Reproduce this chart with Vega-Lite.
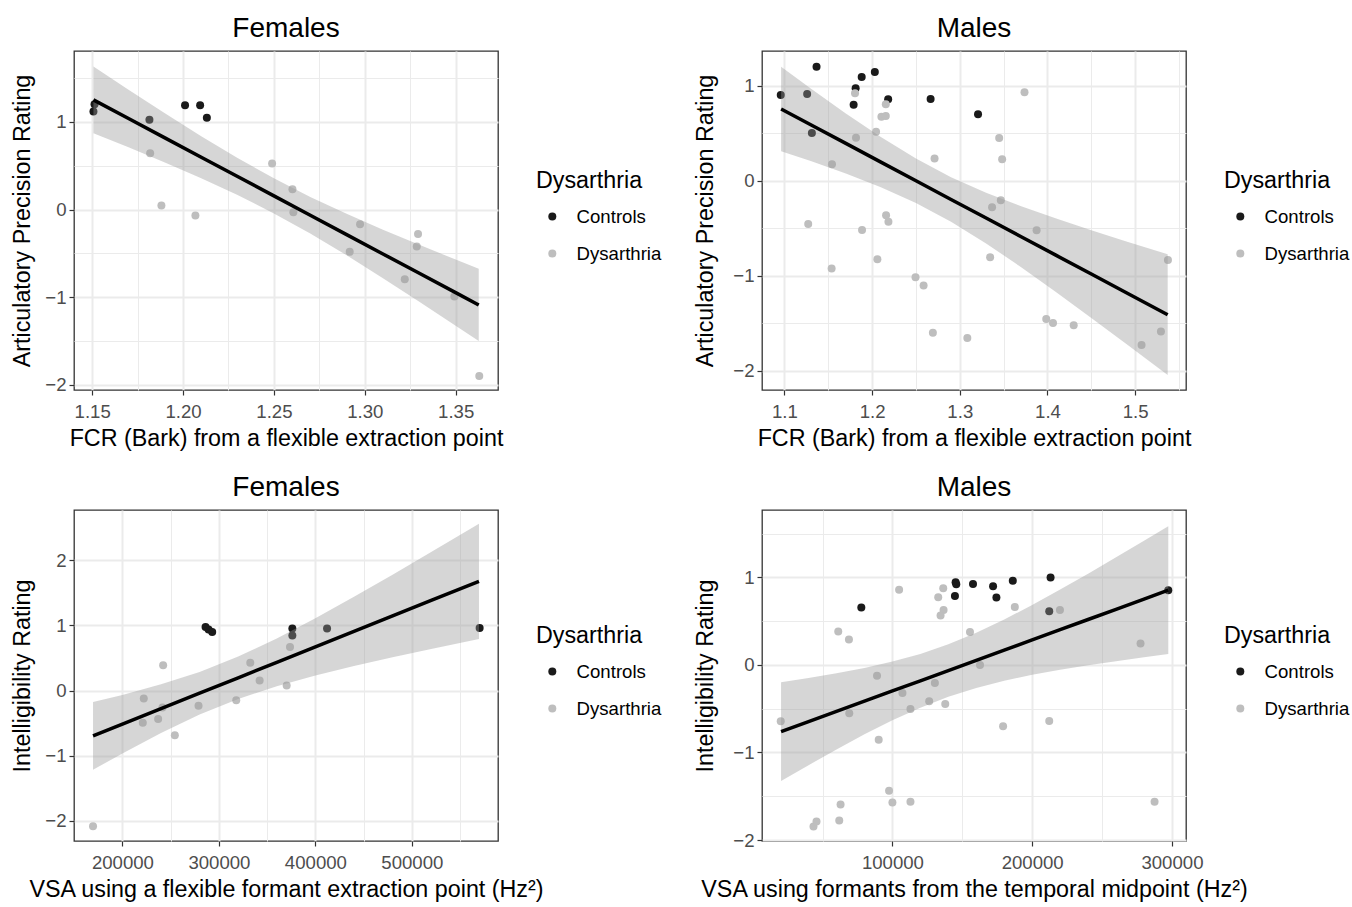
{
  "$schema": "https://vega.github.io/schema/vega-lite/v6.json",
  "padding": {"left": 10, "top": 14, "right": 0, "bottom": 0},
  "background": "white",
  "config": {
    "font": "Liberation Sans",
    "view": {"stroke": "#333333", "strokeWidth": 1.3},
    "axis": {
      "domain": false,
      "tickColor": "#333333",
      "tickSize": 5,
      "tickWidth": 1.2,
      "labelColor": "#4d4d4d",
      "labelFontSize": 18.6,
      "labelFont": "Liberation Sans",
      "labelOverlap": false,
      "labelFlush": false,
      "labelBound": false,
      "titleFont": "Liberation Sans",
      "titleFontSize": 23.3,
      "titleFontWeight": "normal",
      "titleColor": "#000000",
      "gridColor": "#ebebeb"
    },
    "axisX": {"labelPadding": 7, "titlePadding": 7},
    "axisY": {"labelPadding": 3, "titlePadding": 10},
    "legend": {
      "titleFont": "Liberation Sans",
      "titleFontSize": 23.3,
      "titleFontWeight": "normal",
      "titleColor": "#000000",
      "labelFont": "Liberation Sans",
      "labelFontSize": 18.6,
      "labelColor": "#000000",
      "symbolType": "circle",
      "symbolSize": 64,
      "symbolStrokeWidth": 0,
      "symbolOpacity": 1,
      "rowPadding": 18,
      "titlePadding": 14,
      "symbolOffset": 7,
      "labelOffset": 15,
      "padding": 0,
      "orient": "none"
    },
    "title": {"font": "Liberation Sans", "fontSize": 28, "fontWeight": "normal", "color": "#000000", "anchor": "middle", "offset": 8}
  },
  "datasets": {
    "p1pts": [
      {"x": 1.1507, "y": 1.119, "group": "Controls"},
      {"x": 1.1513, "y": 1.203, "group": "Controls"},
      {"x": 1.2011, "y": 1.191, "group": "Controls"},
      {"x": 1.2094, "y": 1.191, "group": "Controls"},
      {"x": 1.2131, "y": 1.047, "group": "Controls"},
      {"x": 1.1815, "y": 1.024, "group": "Controls"},
      {"x": 1.1819, "y": 0.643, "group": "Dysarthria"},
      {"x": 1.1881, "y": 0.046, "group": "Dysarthria"},
      {"x": 1.2068, "y": -0.069, "group": "Dysarthria"},
      {"x": 1.2490, "y": 0.525, "group": "Dysarthria"},
      {"x": 1.2602, "y": 0.232, "group": "Dysarthria"},
      {"x": 1.2607, "y": -0.030, "group": "Dysarthria"},
      {"x": 1.2974, "y": -0.167, "group": "Dysarthria"},
      {"x": 1.2917, "y": -0.483, "group": "Dysarthria"},
      {"x": 1.3293, "y": -0.278, "group": "Dysarthria"},
      {"x": 1.3286, "y": -0.423, "group": "Dysarthria"},
      {"x": 1.3220, "y": -0.796, "group": "Dysarthria"},
      {"x": 1.3493, "y": -0.994, "group": "Dysarthria"},
      {"x": 1.3630, "y": -1.900, "group": "Dysarthria"}
    ],
    "p1band": [
      {"x": 1.1507, "fit": 1.252, "lo": 0.872, "hi": 1.632},
      {"x": 1.17, "fit": 1.039, "lo": 0.710, "hi": 1.368},
      {"x": 1.19, "fit": 0.818, "lo": 0.538, "hi": 1.098},
      {"x": 1.21, "fit": 0.597, "lo": 0.358, "hi": 0.837},
      {"x": 1.23, "fit": 0.377, "lo": 0.166, "hi": 0.588},
      {"x": 1.25, "fit": 0.156, "lo": -0.044, "hi": 0.356},
      {"x": 1.27, "fit": -0.065, "lo": -0.274, "hi": 0.144},
      {"x": 1.29, "fit": -0.286, "lo": -0.523, "hi": -0.049},
      {"x": 1.31, "fit": -0.507, "lo": -0.783, "hi": -0.230},
      {"x": 1.33, "fit": -0.727, "lo": -1.052, "hi": -0.403},
      {"x": 1.35, "fit": -0.948, "lo": -1.326, "hi": -0.571},
      {"x": 1.3627, "fit": -1.089, "lo": -1.502, "hi": -0.676}
    ],
    "p2pts": [
      {"x": 1.0958, "y": 0.902, "group": "Controls"},
      {"x": 1.1259, "y": 0.912, "group": "Controls"},
      {"x": 1.1366, "y": 1.200, "group": "Controls"},
      {"x": 1.1313, "y": 0.502, "group": "Controls"},
      {"x": 1.1812, "y": 0.972, "group": "Controls"},
      {"x": 1.1789, "y": 0.800, "group": "Controls"},
      {"x": 1.1881, "y": 1.091, "group": "Controls"},
      {"x": 1.2031, "y": 1.144, "group": "Controls"},
      {"x": 1.2183, "y": 0.856, "group": "Controls"},
      {"x": 1.2667, "y": 0.860, "group": "Controls"},
      {"x": 1.3208, "y": 0.698, "group": "Controls"},
      {"x": 1.1805, "y": 0.919, "group": "Dysarthria"},
      {"x": 1.2156, "y": 0.804, "group": "Dysarthria"},
      {"x": 1.2106, "y": 0.674, "group": "Dysarthria"},
      {"x": 1.2156, "y": 0.681, "group": "Dysarthria"},
      {"x": 1.2045, "y": 0.516, "group": "Dysarthria"},
      {"x": 1.1816, "y": 0.453, "group": "Dysarthria"},
      {"x": 1.1542, "y": 0.172, "group": "Dysarthria"},
      {"x": 1.2712, "y": 0.232, "group": "Dysarthria"},
      {"x": 1.3738, "y": 0.930, "group": "Dysarthria"},
      {"x": 1.3449, "y": 0.449, "group": "Dysarthria"},
      {"x": 1.3483, "y": 0.225, "group": "Dysarthria"},
      {"x": 1.3368, "y": -0.281, "group": "Dysarthria"},
      {"x": 1.3468, "y": -0.207, "group": "Dysarthria"},
      {"x": 1.3876, "y": -0.523, "group": "Dysarthria"},
      {"x": 1.1271, "y": -0.456, "group": "Dysarthria"},
      {"x": 1.2159, "y": -0.365, "group": "Dysarthria"},
      {"x": 1.2186, "y": -0.432, "group": "Dysarthria"},
      {"x": 1.1885, "y": -0.519, "group": "Dysarthria"},
      {"x": 1.2060, "y": -0.828, "group": "Dysarthria"},
      {"x": 1.1538, "y": -0.926, "group": "Dysarthria"},
      {"x": 1.3346, "y": -0.807, "group": "Dysarthria"},
      {"x": 1.2495, "y": -1.018, "group": "Dysarthria"},
      {"x": 1.2587, "y": -1.105, "group": "Dysarthria"},
      {"x": 1.2693, "y": -1.600, "group": "Dysarthria"},
      {"x": 1.3086, "y": -1.656, "group": "Dysarthria"},
      {"x": 1.3986, "y": -1.456, "group": "Dysarthria"},
      {"x": 1.4063, "y": -1.498, "group": "Dysarthria"},
      {"x": 1.4299, "y": -1.523, "group": "Dysarthria"},
      {"x": 1.5073, "y": -1.730, "group": "Dysarthria"},
      {"x": 1.5294, "y": -1.589, "group": "Dysarthria"},
      {"x": 1.5374, "y": -0.835, "group": "Dysarthria"}
    ],
    "p2band": [
      {"x": 1.0962, "fit": 0.754, "lo": 0.310, "hi": 1.198},
      {"x": 1.13, "fit": 0.588, "lo": 0.206, "hi": 0.970},
      {"x": 1.17, "fit": 0.392, "lo": 0.075, "hi": 0.708},
      {"x": 1.21, "fit": 0.195, "lo": -0.069, "hi": 0.459},
      {"x": 1.25, "fit": -0.001, "lo": -0.235, "hi": 0.232},
      {"x": 1.29, "fit": -0.198, "lo": -0.433, "hi": 0.037},
      {"x": 1.33, "fit": -0.394, "lo": -0.661, "hi": -0.127},
      {"x": 1.37, "fit": -0.590, "lo": -0.911, "hi": -0.269},
      {"x": 1.41, "fit": -0.787, "lo": -1.175, "hi": -0.399},
      {"x": 1.45, "fit": -0.983, "lo": -1.445, "hi": -0.522},
      {"x": 1.49, "fit": -1.180, "lo": -1.720, "hi": -0.640},
      {"x": 1.5371, "fit": -1.411, "lo": -2.047, "hi": -0.776}
    ],
    "p3pts": [
      {"x": 286159, "y": 0.972, "group": "Controls"},
      {"x": 289273, "y": 0.936, "group": "Controls"},
      {"x": 293080, "y": 0.895, "group": "Controls"},
      {"x": 376125, "y": 0.951, "group": "Controls"},
      {"x": 376125, "y": 0.844, "group": "Controls"},
      {"x": 412111, "y": 0.951, "group": "Controls"},
      {"x": 570242, "y": 0.957, "group": "Controls"},
      {"x": 169550, "y": -2.082, "group": "Dysarthria"},
      {"x": 222145, "y": -0.123, "group": "Dysarthria"},
      {"x": 221107, "y": -0.496, "group": "Dysarthria"},
      {"x": 237024, "y": -0.435, "group": "Dysarthria"},
      {"x": 241522, "y": -0.261, "group": "Dysarthria"},
      {"x": 242215, "y": 0.389, "group": "Dysarthria"},
      {"x": 254325, "y": -0.685, "group": "Dysarthria"},
      {"x": 278893, "y": -0.235, "group": "Dysarthria"},
      {"x": 317993, "y": -0.148, "group": "Dysarthria"},
      {"x": 332526, "y": 0.425, "group": "Dysarthria"},
      {"x": 342215, "y": 0.153, "group": "Dysarthria"},
      {"x": 370242, "y": 0.077, "group": "Dysarthria"},
      {"x": 373702, "y": 0.665, "group": "Dysarthria"}
    ],
    "p3band": [
      {"x": 169550, "fit": -0.696, "lo": -1.215, "hi": -0.177},
      {"x": 200000, "fit": -0.516, "lo": -0.965, "hi": -0.067},
      {"x": 240000, "fit": -0.279, "lo": -0.652, "hi": 0.094},
      {"x": 280000, "fit": -0.042, "lo": -0.369, "hi": 0.285},
      {"x": 320000, "fit": 0.195, "lo": -0.130, "hi": 0.520},
      {"x": 360000, "fit": 0.432, "lo": 0.066, "hi": 0.798},
      {"x": 400000, "fit": 0.669, "lo": 0.230, "hi": 1.108},
      {"x": 440000, "fit": 0.906, "lo": 0.375, "hi": 1.437},
      {"x": 480000, "fit": 1.143, "lo": 0.509, "hi": 1.776},
      {"x": 520000, "fit": 1.380, "lo": 0.637, "hi": 2.122},
      {"x": 569550, "fit": 1.673, "lo": 0.790, "hi": 2.555}
    ],
    "p4pts": [
      {"x": 77751, "y": 0.656, "group": "Controls"},
      {"x": 145215, "y": 0.945, "group": "Controls"},
      {"x": 145694, "y": 0.923, "group": "Controls"},
      {"x": 144737, "y": 0.789, "group": "Controls"},
      {"x": 157656, "y": 0.926, "group": "Controls"},
      {"x": 172010, "y": 0.900, "group": "Controls"},
      {"x": 174402, "y": 0.770, "group": "Controls"},
      {"x": 186124, "y": 0.961, "group": "Controls"},
      {"x": 213158, "y": 0.999, "group": "Controls"},
      {"x": 212201, "y": 0.614, "group": "Controls"},
      {"x": 297368, "y": 0.854, "group": "Controls"},
      {"x": 20096, "y": -0.644, "group": "Dysarthria"},
      {"x": 43541, "y": -1.845, "group": "Dysarthria"},
      {"x": 45694, "y": -1.788, "group": "Dysarthria"},
      {"x": 61962, "y": -1.777, "group": "Dysarthria"},
      {"x": 62919, "y": -1.594, "group": "Dysarthria"},
      {"x": 61244, "y": 0.381, "group": "Dysarthria"},
      {"x": 68900, "y": 0.290, "group": "Dysarthria"},
      {"x": 69139, "y": -0.553, "group": "Dysarthria"},
      {"x": 88995, "y": -0.122, "group": "Dysarthria"},
      {"x": 90191, "y": -0.854, "group": "Dysarthria"},
      {"x": 97608, "y": -1.437, "group": "Dysarthria"},
      {"x": 100000, "y": -1.571, "group": "Dysarthria"},
      {"x": 104785, "y": 0.858, "group": "Dysarthria"},
      {"x": 107177, "y": -0.320, "group": "Dysarthria"},
      {"x": 112919, "y": -0.503, "group": "Dysarthria"},
      {"x": 112919, "y": -1.563, "group": "Dysarthria"},
      {"x": 126316, "y": -0.416, "group": "Dysarthria"},
      {"x": 130383, "y": -0.206, "group": "Dysarthria"},
      {"x": 137799, "y": -0.446, "group": "Dysarthria"},
      {"x": 132775, "y": 0.774, "group": "Dysarthria"},
      {"x": 136364, "y": 0.877, "group": "Dysarthria"},
      {"x": 136603, "y": 0.629, "group": "Dysarthria"},
      {"x": 134450, "y": 0.564, "group": "Dysarthria"},
      {"x": 155502, "y": 0.377, "group": "Dysarthria"},
      {"x": 162679, "y": 0.000, "group": "Dysarthria"},
      {"x": 179187, "y": -0.701, "group": "Dysarthria"},
      {"x": 187560, "y": 0.663, "group": "Dysarthria"},
      {"x": 212201, "y": -0.640, "group": "Dysarthria"},
      {"x": 219856, "y": 0.629, "group": "Dysarthria"},
      {"x": 277512, "y": 0.244, "group": "Dysarthria"},
      {"x": 287560, "y": -1.563, "group": "Dysarthria"}
    ],
    "p4band": [
      {"x": 20335, "fit": -0.762, "lo": -1.327, "hi": -0.198},
      {"x": 40000, "fit": -0.647, "lo": -1.145, "hi": -0.150},
      {"x": 60000, "fit": -0.531, "lo": -0.965, "hi": -0.096},
      {"x": 80000, "fit": -0.414, "lo": -0.793, "hi": -0.035},
      {"x": 100000, "fit": -0.297, "lo": -0.632, "hi": 0.038},
      {"x": 120000, "fit": -0.181, "lo": -0.488, "hi": 0.126},
      {"x": 140000, "fit": -0.064, "lo": -0.364, "hi": 0.236},
      {"x": 160000, "fit": 0.053, "lo": -0.263, "hi": 0.369},
      {"x": 180000, "fit": 0.169, "lo": -0.181, "hi": 0.519},
      {"x": 200000, "fit": 0.286, "lo": -0.113, "hi": 0.685},
      {"x": 220000, "fit": 0.403, "lo": -0.055, "hi": 0.861},
      {"x": 240000, "fit": 0.519, "lo": -0.004, "hi": 1.042},
      {"x": 260000, "fit": 0.636, "lo": 0.043, "hi": 1.229},
      {"x": 280000, "fit": 0.753, "lo": 0.088, "hi": 1.418},
      {"x": 297368, "fit": 0.854, "lo": 0.124, "hi": 1.584}
    ]
  },
  "resolve": {"scale": {"color": "independent"}, "legend": {"color": "independent"}},
  "bounds": "flush",
  "columns": 2,
  "spacing": {"row": 120, "column": 264},
  "concat": [
    {
      "title": "Females",
      "width": 424,
      "height": 339,
      "layer": [
        {
          "data": {"name": "p1pts"},
          "mark": {"type": "point", "filled": true, "size": 64, "opacity": 1},
          "encoding": {
            "x": {"field": "x", "type": "quantitative", "title": "FCR (Bark) from a flexible extraction point",
              "scale": {"domain": [1.140, 1.3733], "nice": false, "zero": false},
              "axis": {"values": [1.15, 1.175, 1.2, 1.225, 1.25, 1.275, 1.3, 1.325, 1.35],
                "labelExpr": "abs(datum.value*20 - round(datum.value*20)) < 0.001 ? format(datum.value, '.2f') : ''",
                "gridWidth": {"condition": {"test": "abs(datum.value*20 - round(datum.value*20)) < 0.001", "value": 2}, "value": 1},
                "tickOpacity": {"condition": {"test": "abs(datum.value*20 - round(datum.value*20)) < 0.001", "value": 1}, "value": 0}}},
            "y": {"field": "y", "type": "quantitative", "title": "Articulatory Precision Rating",
              "scale": {"domain": [-2.06, 1.81], "nice": false, "zero": false},
              "axis": {"values": [-2, -1.5, -1, -0.5, 0, 0.5, 1, 1.5],
                "labelExpr": "abs(datum.value - round(datum.value)) < 0.001 ? format(datum.value, 'd') : ''",
                "gridWidth": {"condition": {"test": "abs(datum.value - round(datum.value)) < 0.001", "value": 2}, "value": 1},
                "tickOpacity": {"condition": {"test": "abs(datum.value - round(datum.value)) < 0.001", "value": 1}, "value": 0}}},
            "color": {"field": "group", "type": "nominal", "title": "Dysarthria",
              "scale": {"domain": ["Controls", "Dysarthria"], "range": ["#1a1a1a", "#bebebe"]},
              "legend": {"orient": "none", "legendX": 462, "legendY": 119}}
          }
        },
        {
          "data": {"name": "p1band"},
          "mark": {"type": "area", "color": "#999999", "opacity": 0.4},
          "encoding": {
            "x": {"field": "x", "type": "quantitative", "title": "FCR (Bark) from a flexible extraction point"},
            "y": {"field": "lo", "type": "quantitative", "title": "Articulatory Precision Rating"},
            "y2": {"field": "hi"}
          }
        },
        {
          "data": {"name": "p1band"},
          "mark": {"type": "line", "color": "#000000", "strokeWidth": 3.5},
          "encoding": {
            "x": {"field": "x", "type": "quantitative", "title": "FCR (Bark) from a flexible extraction point"},
            "y": {"field": "fit", "type": "quantitative", "title": "Articulatory Precision Rating"}
          }
        }
      ]
    },
    {
      "title": "Males",
      "width": 424,
      "height": 339,
      "layer": [
        {
          "data": {"name": "p2pts"},
          "mark": {"type": "point", "filled": true, "size": 64, "opacity": 1},
          "encoding": {
            "x": {"field": "x", "type": "quantitative", "title": "FCR (Bark) from a flexible extraction point",
              "scale": {"domain": [1.0744, 1.558], "nice": false, "zero": false},
              "axis": {"values": [1.1, 1.15, 1.2, 1.25, 1.3, 1.35, 1.4, 1.45, 1.5, 1.55],
                "labelExpr": "abs(datum.value*10 - round(datum.value*10)) < 0.001 ? format(datum.value, '.1f') : ''",
                "gridWidth": {"condition": {"test": "abs(datum.value*10 - round(datum.value*10)) < 0.001", "value": 2}, "value": 1},
                "tickOpacity": {"condition": {"test": "abs(datum.value*10 - round(datum.value*10)) < 0.001", "value": 1}, "value": 0}}},
            "y": {"field": "y", "type": "quantitative", "title": "Articulatory Precision Rating",
              "scale": {"domain": [-2.204, 1.365], "nice": false, "zero": false},
              "axis": {"values": [-2, -1.5, -1, -0.5, 0, 0.5, 1], "titlePadding": 15,
                "labelExpr": "abs(datum.value - round(datum.value)) < 0.001 ? format(datum.value, 'd') : ''",
                "gridWidth": {"condition": {"test": "abs(datum.value - round(datum.value)) < 0.001", "value": 2}, "value": 1},
                "tickOpacity": {"condition": {"test": "abs(datum.value - round(datum.value)) < 0.001", "value": 1}, "value": 0}}},
            "color": {"field": "group", "type": "nominal", "title": "Dysarthria",
              "scale": {"domain": ["Controls", "Dysarthria"], "range": ["#1a1a1a", "#bebebe"]},
              "legend": {"orient": "none", "legendX": 462, "legendY": 119}}
          }
        },
        {
          "data": {"name": "p2band"},
          "mark": {"type": "area", "color": "#999999", "opacity": 0.4},
          "encoding": {
            "x": {"field": "x", "type": "quantitative", "title": "FCR (Bark) from a flexible extraction point"},
            "y": {"field": "lo", "type": "quantitative", "title": "Articulatory Precision Rating"},
            "y2": {"field": "hi"}
          }
        },
        {
          "data": {"name": "p2band"},
          "mark": {"type": "line", "color": "#000000", "strokeWidth": 3.5},
          "encoding": {
            "x": {"field": "x", "type": "quantitative", "title": "FCR (Bark) from a flexible extraction point"},
            "y": {"field": "fit", "type": "quantitative", "title": "Articulatory Precision Rating"}
          }
        }
      ]
    },
    {
      "title": "Females",
      "width": 424,
      "height": 331,
      "layer": [
        {
          "data": {"name": "p3pts"},
          "mark": {"type": "point", "filled": true, "size": 64, "opacity": 1},
          "encoding": {
            "x": {"field": "x", "type": "quantitative", "title": "VSA using a flexible formant extraction point (Hz²)",
              "scale": {"domain": [149827, 589273], "nice": false, "zero": false},
              "axis": {"values": [200000, 250000, 300000, 350000, 400000, 450000, 500000, 550000],
                "labelExpr": "datum.value % 100000 == 0 ? format(datum.value, 'd') : ''",
                "gridWidth": {"condition": {"test": "datum.value % 100000 == 0", "value": 2}, "value": 1},
                "tickOpacity": {"condition": {"test": "datum.value % 100000 == 0", "value": 1}, "value": 0}}},
            "y": {"field": "y", "type": "quantitative", "title": "Intelligibility Rating",
              "scale": {"domain": [-2.307, 2.767], "nice": false, "zero": false},
              "axis": {"values": [-2, -1.5, -1, -0.5, 0, 0.5, 1, 1.5, 2, 2.5],
                "labelExpr": "abs(datum.value - round(datum.value)) < 0.001 ? format(datum.value, 'd') : ''",
                "gridWidth": {"condition": {"test": "abs(datum.value - round(datum.value)) < 0.001", "value": 2}, "value": 1},
                "tickOpacity": {"condition": {"test": "abs(datum.value - round(datum.value)) < 0.001", "value": 1}, "value": 0}}},
            "color": {"field": "group", "type": "nominal", "title": "Dysarthria",
              "scale": {"domain": ["Controls", "Dysarthria"], "range": ["#1a1a1a", "#bebebe"]},
              "legend": {"orient": "none", "legendX": 462, "legendY": 115}}
          }
        },
        {
          "data": {"name": "p3band"},
          "mark": {"type": "area", "color": "#999999", "opacity": 0.4},
          "encoding": {
            "x": {"field": "x", "type": "quantitative", "title": "VSA using a flexible formant extraction point (Hz²)"},
            "y": {"field": "lo", "type": "quantitative", "title": "Intelligibility Rating"},
            "y2": {"field": "hi"}
          }
        },
        {
          "data": {"name": "p3band"},
          "mark": {"type": "line", "color": "#000000", "strokeWidth": 3.5},
          "encoding": {
            "x": {"field": "x", "type": "quantitative", "title": "VSA using a flexible formant extraction point (Hz²)"},
            "y": {"field": "fit", "type": "quantitative", "title": "Intelligibility Rating"}
          }
        }
      ]
    },
    {
      "title": "Males",
      "width": 424,
      "height": 331,
      "layer": [
        {
          "data": {"name": "p4pts"},
          "mark": {"type": "point", "filled": true, "size": 64, "opacity": 1},
          "encoding": {
            "x": {"field": "x", "type": "quantitative", "title": "VSA using formants from the temporal midpoint (Hz²)",
              "scale": {"domain": [6699, 310048], "nice": false, "zero": false},
              "axis": {"values": [50000, 100000, 150000, 200000, 250000, 300000],
                "labelExpr": "datum.value % 100000 == 0 ? format(datum.value, 'd') : ''",
                "gridWidth": {"condition": {"test": "datum.value % 100000 == 0", "value": 2}, "value": 1},
                "tickOpacity": {"condition": {"test": "datum.value % 100000 == 0", "value": 1}, "value": 0}}},
            "y": {"field": "y", "type": "quantitative", "title": "Intelligibility Rating",
              "scale": {"domain": [-2.011, 1.770], "nice": false, "zero": false},
              "axis": {"values": [-2, -1.5, -1, -0.5, 0, 0.5, 1, 1.5], "titlePadding": 15,
                "labelExpr": "abs(datum.value - round(datum.value)) < 0.001 ? format(datum.value, 'd') : ''",
                "gridWidth": {"condition": {"test": "abs(datum.value - round(datum.value)) < 0.001", "value": 2}, "value": 1},
                "tickOpacity": {"condition": {"test": "abs(datum.value - round(datum.value)) < 0.001", "value": 1}, "value": 0}}},
            "color": {"field": "group", "type": "nominal", "title": "Dysarthria",
              "scale": {"domain": ["Controls", "Dysarthria"], "range": ["#1a1a1a", "#bebebe"]},
              "legend": {"orient": "none", "legendX": 462, "legendY": 115}}
          }
        },
        {
          "data": {"name": "p4band"},
          "mark": {"type": "area", "color": "#999999", "opacity": 0.4},
          "encoding": {
            "x": {"field": "x", "type": "quantitative", "title": "VSA using formants from the temporal midpoint (Hz²)"},
            "y": {"field": "lo", "type": "quantitative", "title": "Intelligibility Rating"},
            "y2": {"field": "hi"}
          }
        },
        {
          "data": {"name": "p4band"},
          "mark": {"type": "line", "color": "#000000", "strokeWidth": 3.5},
          "encoding": {
            "x": {"field": "x", "type": "quantitative", "title": "VSA using formants from the temporal midpoint (Hz²)"},
            "y": {"field": "fit", "type": "quantitative", "title": "Intelligibility Rating"}
          }
        }
      ]
    }
  ]
}
